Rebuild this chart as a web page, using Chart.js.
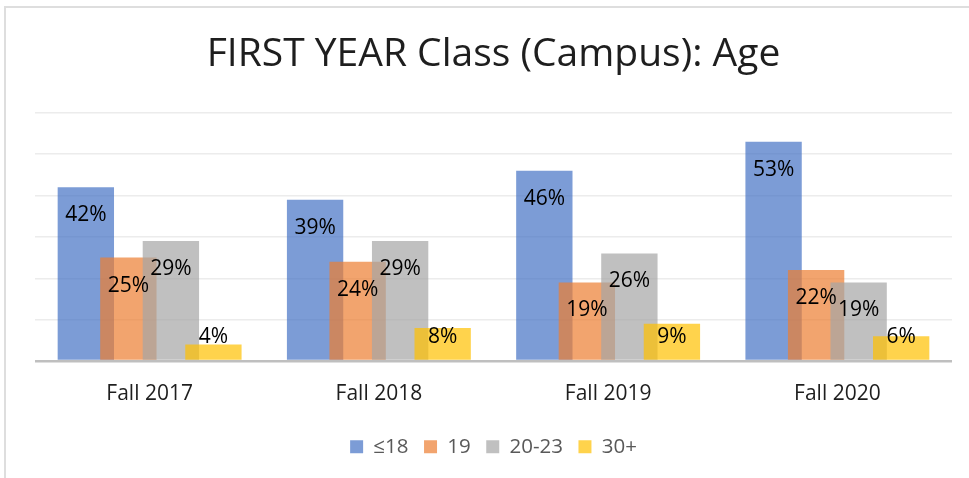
<!DOCTYPE html>
<html>
<head>
<meta charset="utf-8">
<script src="https://cdn.jsdelivr.net/npm/chart.js@4"></script>
<style>
  html, body { margin: 0; padding: 0; background: #fff; }
  #wrap { position: relative; width: 969px; height: 478px; }
  #frame { position: absolute; left: 4px; top: 6px; right: -4px; bottom: -4px;
           border-top: 2px solid #dedede; border-left: 2px solid #dedede; pointer-events: none; }
</style>
</head>
<body>
<div id="wrap">
  <canvas id="ageChart" width="969" height="478"></canvas>
  <div id="frame"></div>
</div>
<script>
const terms = ['Fall 2017', 'Fall 2018', 'Fall 2019', 'Fall 2020'];
const seriesNames = ['≤18', '19', '20-23', '30+'];
const under18 = [42, 39, 46, 53];
const age19 = [25, 24, 19, 22];
const age20to23 = [29, 29, 26, 19];
const age30plus = [4, 8, 9, 6];
const yTicks = [0, 10, 20, 30, 40, 50, 60];

const FONT = "'Open Sans', 'Noto Sans', sans-serif";
const colors = [
  'rgba(68, 114, 196, 0.7)',
  'rgba(237, 125, 49, 0.7)',
  'rgba(165, 165, 165, 0.7)',
  'rgba(255, 192, 0, 0.7)'
];
const values = [under18, age19, age20to23, age30plus];

// Excel-style overlapping bars: draw series left to right so the later one sits on top
const drawInOrder = {
  id: 'drawInOrder',
  beforeDatasetsDraw(chart) {
    const ctx = chart.ctx;
    const area = chart.chartArea;
    ctx.save();
    ctx.beginPath();
    ctx.rect(area.left, area.top - 2, area.right - area.left, area.bottom - area.top + 4);
    ctx.clip();
    for (let i = 0; i < chart.data.datasets.length; i++) {
      const meta = chart.getDatasetMeta(i);
      if (!meta.hidden) meta.controller.draw();
    }
    ctx.restore();
    return false;
  }
};

// value labels near the top of each bar, kept above the axis line
const barLabels = {
  id: 'barLabels',
  afterDraw(chart) {
    const ctx = chart.ctx;
    ctx.save();
    ctx.font = '21px ' + FONT;
    ctx.fillStyle = '#000';
    ctx.textAlign = 'center';
    ctx.textBaseline = 'middle';
    chart.data.datasets.forEach((ds, i) => {
      const meta = chart.getDatasetMeta(i);
      meta.data.forEach((bar, j) => {
        const y = Math.min(bar.y + 28, bar.base - 23);
        ctx.fillText(ds.data[j] + '%', bar.x, y);
      });
    });
    ctx.restore();
  }
};

new Chart(document.getElementById('ageChart'), {
  type: 'bar',
  data: {
    labels: terms,
    datasets: seriesNames.map((name, i) => ({
      label: name,
      data: values[i],
      backgroundColor: colors[i],
      borderWidth: 0,
      categoryPercentage: 0.742,
      barPercentage: 1.325
    }))
  },
  options: {
    responsive: false,
    animation: false,
    layout: { padding: { left: 35, right: 17, top: 0, bottom: 11 } },
    plugins: {
      title: {
        display: true,
        text: 'FIRST YEAR Class (Campus): Age',
        color: '#1e1e1e',
        font: { family: FONT, size: 39, weight: 'normal', lineHeight: 1.2 },
        padding: { top: 31, bottom: 35 }
      },
      legend: {
        position: 'bottom',
        labels: {
          color: '#595959',
          font: { family: FONT, size: 20.5 },
          boxWidth: 13,
          boxHeight: 13,
          padding: 15.5,
          sort: (a, b) => a.datasetIndex - b.datasetIndex
        }
      },
      tooltip: { enabled: false }
    },
    scales: {
      x: {
        grid: { display: false },
        border: { display: false },
        ticks: { color: '#1e1e1e', font: { family: FONT, size: 21 }, padding: 12 },
        afterFit: s => { s.height = 60; }
      },
      y: {
        min: yTicks[0],
        max: yTicks[yTicks.length - 1],
        afterBuildTicks: s => { s.ticks = yTicks.map(v => ({ value: v })); },
        ticks: { display: false },
        border: { display: false },
        grid: {
          drawTicks: false,
          color: c => c.tick.value === 0 ? '#bfbfbf' : '#ececec',
          lineWidth: c => c.tick.value === 0 ? 2.5 : 1.5
        },
        afterFit: s => { s.width = 0; }
      }
    }
  },
  plugins: [drawInOrder, barLabels]
});
</script>
</body>
</html>
